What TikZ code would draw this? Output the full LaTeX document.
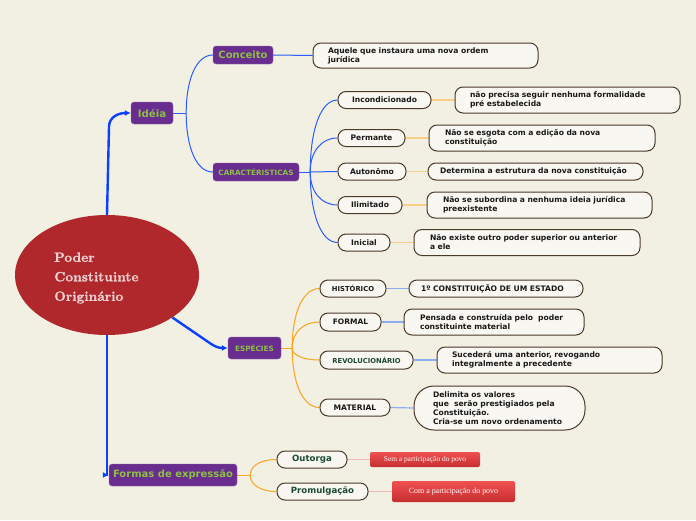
\documentclass[tikz,border=0pt]{standalone}
\usepackage{fontspec}
\newfontfamily\dvs{DejaVu Sans}
\newfontfamily\lser{Liberation Serif}
\newfontfamily\cmb{lmroman10-bold.otf}[FakeBold=1.2]
\usetikzlibrary{calc,arrows.meta,shapes.geometric}
\pgfdeclarelayer{bgfill}\pgfdeclarelayer{conn}
\pgfsetlayers{bgfill,conn,main}
\definecolor{bgc}{HTML}{F2EFE3}
\definecolor{ellc}{HTML}{B0282B}
\definecolor{ellt}{HTML}{EBCFCF}
\definecolor{purp}{HTML}{682D8E}
\definecolor{lgreen}{HTML}{8DC043}
\definecolor{mainblue}{HTML}{0A40FF}
\definecolor{thinblue}{HTML}{2A5CFF}
\definecolor{orng}{HTML}{F7A41E}
\definecolor{lorng}{HTML}{F9CF88}
\definecolor{lblue}{HTML}{8EABEF}
\definecolor{pinkl}{HTML}{F3B9B4}
\definecolor{brd}{HTML}{4A3A28}
\definecolor{dgreen}{HTML}{1B4A30}
\definecolor{redt}{HTML}{F05050}
\definecolor{redb}{HTML}{C52F31}
\tikzset{
  topic/.style={fill=purp, draw=purp!70!white, rounded corners=3pt, text=lgreen, inner sep=0pt},
  leaf/.style={draw=brd, line width=1pt, fill=bgc!50!white, rounded corners=8pt, font=\dvs\bfseries\fontsize{7.6}{9}\selectfont, text=black!90, inner sep=0pt},
  desc/.style={leaf, align=left},
  redbox/.style={top color=redt, bottom color=redb, draw=none, rounded corners=2pt, text=white, inner sep=0pt},
  mmc/.style={to path={.. controls ($(\tikztostart)!0.6!(\tikztostart|-\tikztotarget)$) and ($(\tikztotarget)!0.6!(\tikztostart|-\tikztotarget)$) .. (\tikztotarget) \tikztonodes}},
  thinc/.style={draw=thinblue, line width=1pt},
  orc/.style={draw=orng, line width=1pt},
  lorc/.style={draw=lorng, line width=1.5pt},
  lbc/.style={draw=lblue, line width=1.2pt},
  pkc/.style={draw=pinkl, line width=1.2pt},
  mainc/.style={draw=mainblue, line width=2.4pt, -{Latex[length=6pt,width=6pt]}},
}
\begin{document}
\begin{tikzpicture}[x=1pt,y=-1pt]
\useasboundingbox (0,0) rectangle (696,520);
\begin{pgfonlayer}{bgfill}
\fill[bgc] (0,0) rectangle (696,520);
\end{pgfonlayer}

% central
\node[ellipse, fill=ellc, minimum width=184pt, minimum height=120pt, inner sep=0pt] (ell) at (107,275) {};
\node[font=\cmb\fontsize{13.5}{19.5}\selectfont, text=ellt, align=left, anchor=west, inner sep=0pt] (ellabel) at (54,278) {Poder\\Constituinte\\Originário};

% topics
\node[topic, minimum width=42pt, minimum height=22pt, font=\dvs\bfseries\fontsize{10.2}{12}\selectfont] (idea) at (152,113) {Idéia};
\node[topic, minimum width=60pt, minimum height=18pt, font=\dvs\bfseries\fontsize{10}{12}\selectfont] (conc) at (243,55) {Conceito};
\node[topic, minimum width=86pt, minimum height=18pt, font=\dvs\bfseries\fontsize{7.3}{9}\selectfont] (carac) at (256,172) {CARACTÉRISTICAS};
\node[topic, minimum width=53pt, minimum height=22pt, font=\dvs\bfseries\fontsize{7.3}{9}\selectfont] (esp) at (254.5,348) {ESPÉCIES};
\node[topic, minimum width=128pt, minimum height=22pt, font=\dvs\bfseries\fontsize{10}{12}\selectfont] (formas) at (173,475) {Formas de expressão};

% conceito description
\node[desc, minimum height=25pt, text width=195pt, inner xsep=15pt] (concd) at (425.5,55.5) {Aquele que instaura uma nova ordem\\jurídica};

% caracteristicas leaves
\node[leaf, minimum width=93pt, minimum height=17pt] (inc) at (384.5,100) {Incondicionado};
\node[leaf, minimum width=67pt, minimum height=17pt] (perm) at (371.5,138) {Permante};
\node[leaf, minimum width=68pt, minimum height=17pt] (aut) at (372,171.5) {Autonômo};
\node[leaf, minimum width=64pt, minimum height=17pt] (ilim) at (370,205) {Ilimitado};
\node[leaf, minimum width=52pt, minimum height=17pt] (inic) at (364,242.5) {Inicial};

\node[desc, minimum height=26pt, text width=195pt, inner xsep=15pt] (incd) at (567.5,100) {não precisa seguir nenhuma formalidade\\pré estabelecida};
\node[desc, minimum height=26pt, text width=194pt, inner xsep=16pt] (permd) at (542,138) {Não se esgota com a edição da nova\\constituição};
\node[desc, minimum height=17pt, text width=191pt, inner xsep=12pt] (autd) at (535.5,171.5) {Determina a estrutura da nova constituição};
\node[desc, minimum height=26pt, text width=193pt, inner xsep=16pt] (ilimd) at (539.5,205) {Não se subordina a nenhuma ideia jurídica\\preexistente};
\node[desc, minimum height=26pt, text width=194pt, inner xsep=16pt] (inicd) at (527,242.5) {Não existe outro poder superior ou anterior\\a ele};

% especies leaves
\node[leaf, minimum width=66pt, minimum height=17pt, font=\dvs\bfseries\fontsize{6.8}{8}\selectfont] (hist) at (353,288.5) {HISTÓRICO};
\node[leaf, minimum width=61pt, minimum height=18pt, font=\dvs\bfseries\fontsize{7.5}{9}\selectfont] (form) at (350.5,322) {FORMAL};
\node[leaf, minimum width=93pt, minimum height=18pt, font=\dvs\bfseries\fontsize{6.8}{8}\selectfont, text=dgreen] (revol) at (366.5,360) {REVOLUCIONÁRIO};
\node[leaf, minimum width=70pt, minimum height=17pt, font=\dvs\bfseries\fontsize{7.6}{9}\selectfont] (mat) at (355,407.5) {MATERIAL};

\node[desc, minimum height=17pt, text width=150pt, inner xsep=12pt] (histd) at (496,288.5) {1º CONSTITUIÇÃO DE UM ESTADO};
\node[desc, minimum height=26pt, text width=148pt, inner xsep=16pt] (formd) at (494,322) {Pensada e construída pelo~ poder\\constituinte material};
\node[desc, minimum height=26pt, text width=195pt, inner xsep=15pt] (revold) at (549.5,360) {Sucederá uma anterior, revogando\\integralmente a precedente};
\node[desc, minimum height=44pt, text width=133pt, inner xsep=19pt, rounded corners=20pt] (matd) at (499.5,408) {Delimita os valores\\que~ serão prestigiados pela\\Constituição.\\Cria-se um novo ordenamento};

% formas leaves
\node[leaf, minimum width=70pt, minimum height=17pt, font=\dvs\bfseries\fontsize{8.6}{10}\selectfont, text=dgreen] (out) at (312,459.5) {Outorga};
\node[leaf, minimum width=91pt, minimum height=17pt, font=\dvs\bfseries\fontsize{8.6}{10}\selectfont, text=dgreen] (prom) at (322.5,491.5) {Promulgação};
\node[redbox, minimum width=110pt, minimum height=15pt, font=\lser\fontsize{7.4}{9}\selectfont] (sem) at (425,459.5) {Sem a participação do povo};
\node[redbox, minimum width=123pt, minimum height=21pt, font=\lser\fontsize{7.9}{9}\selectfont] (com) at (453.5,491.5) {Com a participação do povo};

% branch points
\coordinate (ib) at ($(idea.east)+(13,0)$);
\coordinate (cb) at ($(carac.east)+(11,0)$);
\coordinate (eb) at ($(esp.east)+(11,0)$);
\coordinate (fb) at ($(formas.east)+(13,0)$);

\begin{pgfonlayer}{conn}
\draw[mainc] (ell.north) -- ++(2,-88) .. controls +(0,-10) and +(-12,0) .. (idea.west);
\draw[mainc] (ell.-33) -- ++(38,26) .. controls +(6,4) and +(-8,0) .. (esp.west);
\draw[mainc] (ell.south) -- (ell.south |- formas.west) -- (formas.west);

\draw[thinc] (idea.east) -- (ib);
\draw[thinc] (ib) to[mmc] (conc.west);
\draw[thinc] (ib) to[mmc] (carac.west);
\draw[thinc] (conc.east) -- (concd.west);

\draw[thinc] (carac.east) -- (cb);
\draw[thinc] (cb) to[mmc] (inc.west);
\draw[thinc] (cb) to[mmc] (perm.west);
\draw[thinc] (cb) -- (aut.west);
\draw[thinc] (cb) to[mmc] (ilim.west);
\draw[thinc] (cb) to[mmc] (inic.west);

\draw[lorc] (inc.east) -- (incd.west);
\draw[lorc] (perm.east) -- (permd.west);
\draw[lorc] (aut.east) -- (autd.west);
\draw[lorc] (ilim.east) -- (ilimd.west);
\draw[lorc] (inic.east) -- (inicd.west);

\draw[orc] (esp.east) -- (eb);
\draw[orc] (eb) to[mmc] (hist.west);
\draw[orc] (eb) to[mmc] (form.west);
\draw[orc] (eb) to[mmc] (revol.west);
\draw[orc] (eb) to[mmc] (mat.west);

\draw[lbc] (hist.east) -- (histd.west);
\draw[lbc] (form.east) -- (formd.west);
\draw[lbc] (revol.east) -- (revold.west);
\draw[lbc] (mat.east) -- (matd.west);

\draw[orc] (formas.east) -- (fb);
\draw[orc] (fb) to[mmc] (out.west);
\draw[orc] (fb) to[mmc] (prom.west);

\draw[pkc] (out.east) -- (sem.west);
\draw[pkc] (prom.east) -- (com.west);
\end{pgfonlayer}
\end{tikzpicture}
\end{document}
